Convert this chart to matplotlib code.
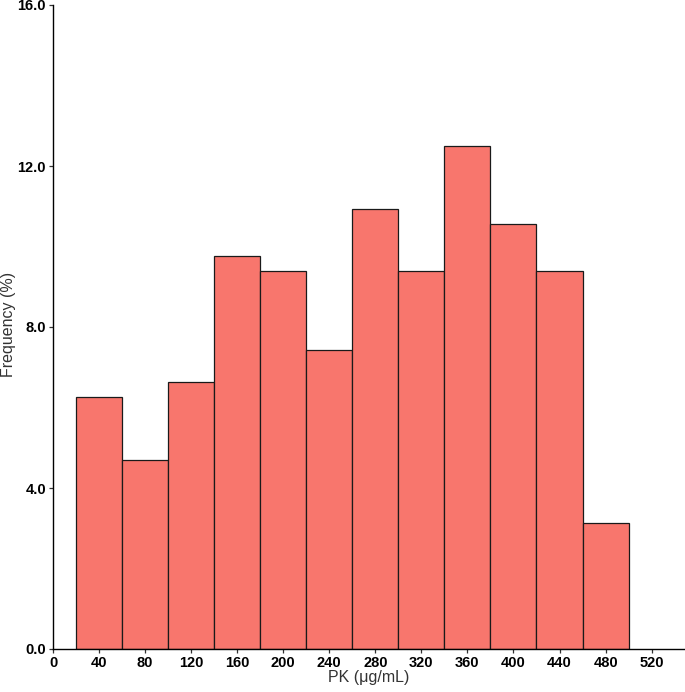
import matplotlib
matplotlib.use("Agg")
import matplotlib.pyplot as plt

# bin edges (ug/mL) and frequency (%) per bin
bin_edges = [20, 60, 100, 140, 180, 220, 260, 300, 340, 380, 420, 460, 500]
freq_pct = [6.25, 4.69, 6.64, 9.77, 9.38, 7.42, 10.94, 9.38, 12.50, 10.55, 9.38, 3.13]
x_ticks = [0, 40, 80, 120, 160, 200, 240, 280, 320, 360, 400, 440, 480, 520]
y_ticks = [0.0, 4.0, 8.0, 12.0, 16.0]

plt.rcParams['font.family'] = ['Liberation Sans', 'DejaVu Sans']

fig = plt.figure(figsize=(6.85, 6.92), dpi=100)
ax = fig.add_axes([53/685, 43/692, 1 - 53/685, 644/692])

lefts = bin_edges[:-1]
widths = [b - a for a, b in zip(bin_edges[:-1], bin_edges[1:])]
ax.bar(lefts, freq_pct, width=widths, align='edge', color='#F8766D',
       edgecolor='#1a1a1a', linewidth=0.9)

ax.set_xlim(0, 549)
ax.set_ylim(0, 16)
ax.set_xticks(x_ticks)
ax.set_xticklabels([str(t) for t in x_ticks])
ax.set_yticks(y_ticks)
ax.set_yticklabels(['%.1f' % t for t in y_ticks])

for s in ['top', 'right']:
    ax.spines[s].set_visible(False)
for s in ['left', 'bottom']:
    ax.spines[s].set_linewidth(1.0)
    ax.spines[s].set_color('black')

ax.tick_params(axis='both', length=3, width=0.9, color='#333333', pad=2,
               labelsize=10.5, labelcolor='black')
for lab in ax.get_xticklabels() + ax.get_yticklabels():
    lab.set_fontweight('bold')

ax.set_xlabel('PK (\u03bcg/mL)', fontsize=11.5, color='#333333', labelpad=0)
# y label placed in figure pixels so it sits tight to the left edge
fig.text(9/685, 1 - 324/692, 'Frequency (%)', fontsize=11.5, color='#333333',
         rotation=90, ha='center', va='center')

fig.savefig('out.png', dpi=100)
